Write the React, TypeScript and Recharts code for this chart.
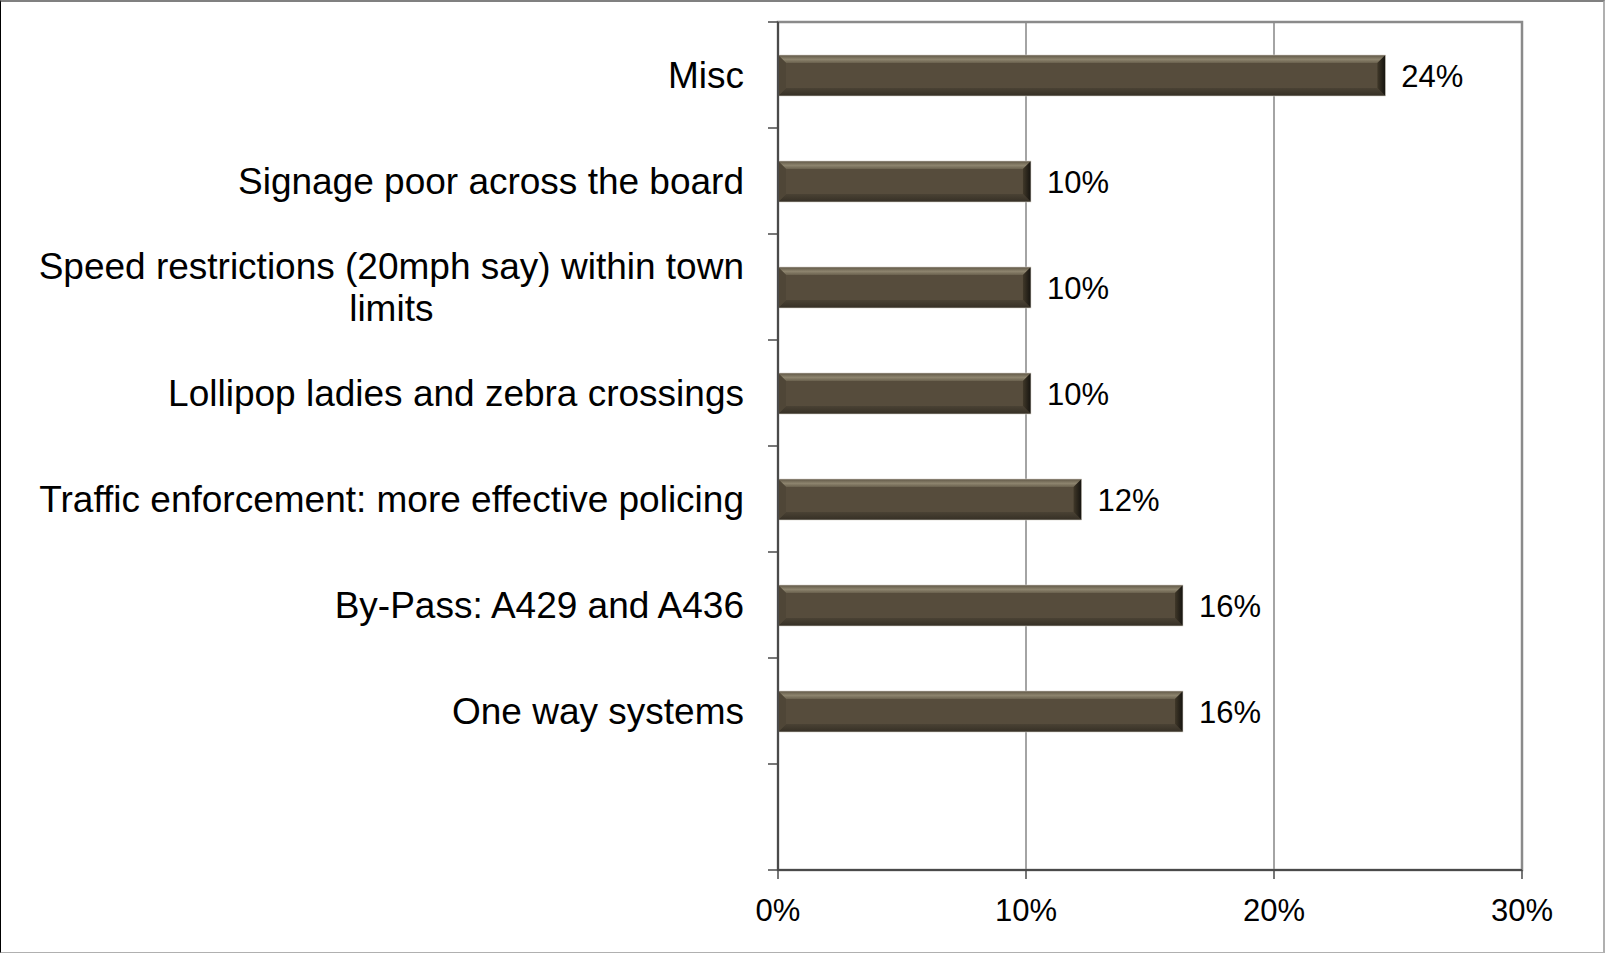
import React from 'react';
import { BarChart, Bar, XAxis, YAxis, CartesianGrid, LabelList, ReferenceArea } from 'recharts';

// chart values (share of responses)
const categories = [
  'Misc',
  'Signage poor across the board',
  'Speed restrictions (20mph say) within town limits',
  'Lollipop ladies and zebra crossings',
  'Traffic enforcement: more effective policing',
  'By-Pass: A429 and A436',
  'One way systems',
  '',
];
const shares = [0.2449, 0.102, 0.102, 0.102, 0.1224, 0.1633, 0.1633, null];
const xTicks = [0, 0.1, 0.2, 0.3];

const data = categories.map((name, i) => ({ name, value: shares[i] }));

const FONT = "'Liberation Sans', Arial, sans-serif";
const CAT_SIZE = 37;
const AXIS_COLOR = '#4a4a4a';
const GRID_COLOR = '#868686';

const pct = (v) => (v == null ? '' : `${Math.round(v * 100)}%`);

let ctx = null;
function measure(text) {
  if (!ctx) {
    ctx = document.createElement('canvas').getContext('2d');
    ctx.font = `${CAT_SIZE}px ${FONT}`;
  }
  return ctx.measureText(text).width;
}

function wrap(text, maxWidth) {
  const words = text.split(' ');
  const lines = [];
  let cur = '';
  words.forEach((w) => {
    const next = cur ? cur + ' ' + w : w;
    if (cur && measure(next) > maxWidth) {
      lines.push(cur);
      cur = w;
    } else {
      cur = next;
    }
  });
  if (cur) lines.push(cur);
  return lines;
}

function CategoryTick(props) {
  const { x, y, payload, index, visibleTicksCount } = props;
  const half = payload.offset || 0;
  const axisX = x + 34;
  const lines = payload.value ? wrap(payload.value, 720) : [];
  const lineH = 42;
  const firstW = lines.length ? measure(lines[0]) : 0;
  const centerX = x - firstW / 2;
  return (
    <g>
      <line x1={axisX - 10} x2={axisX} y1={y - half} y2={y - half} stroke={AXIS_COLOR} strokeWidth={1.5} />
      {index === visibleTicksCount - 1 && (
        <line x1={axisX - 10} x2={axisX} y1={y + half} y2={y + half} stroke={AXIS_COLOR} strokeWidth={1.5} />
      )}
      {lines.map((ln, i) => (
        <text
          key={i}
          x={i === 0 ? x : centerX}
          y={y + (i - (lines.length - 1) / 2) * lineH}
          dy="0.355em"
          textAnchor={i === 0 ? 'end' : 'middle'}
          fontFamily={FONT}
          fontSize={CAT_SIZE}
          fill="#000"
        >
          {ln}
        </text>
      ))}
    </g>
  );
}

function BevelBar(props) {
  const { x, y, width, height } = props;
  if (!width || width <= 0) return null;
  const b = Math.min(8, width / 2);
  const r = x + width;
  const btm = y + height;
  return (
    <g>
      <rect x={x} y={y} width={width} height={height} fill="#564c3c" />
      <polygon points={`${x},${y} ${r},${y} ${r - b},${y + b} ${x + b},${y + b}`} fill="url(#bevelTop)" />
      <polygon points={`${x},${btm} ${r},${btm} ${r - b},${btm - b} ${x + b},${btm - b}`} fill="url(#bevelBottom)" />
      <polygon points={`${x},${y} ${x + b},${y + b} ${x + b},${btm - b} ${x},${btm}`} fill="#4f4637" />
      <polygon points={`${r},${y} ${r - b},${y + b} ${r - b},${btm - b} ${r},${btm}`} fill="url(#bevelRight)" />
      <rect x={x} y={y} width={width} height={height} fill="none" stroke="#d6d2ca" strokeWidth={0.6} />
    </g>
  );
}

export default function App() {
  return (
    <div style={{ position: 'relative', width: 1605, height: 953, background: '#fff' }}>
      <style>{`body{margin:0}`}</style>
      <BarChart
        width={1605}
        height={953}
        data={data}
        layout="vertical"
        margin={{ top: 22, right: 83, bottom: 0, left: 0 }}
        barCategoryGap={0}
      >
        <defs>
          <linearGradient id="bevelTop" x1="0" y1="0" x2="0" y2="1">
            <stop offset="0%" stopColor="#5f5645" />
            <stop offset="55%" stopColor="#8d846e" />
            <stop offset="100%" stopColor="#6a614e" />
          </linearGradient>
          <linearGradient id="bevelBottom" x1="0" y1="0" x2="0" y2="1">
            <stop offset="0%" stopColor="#4a4234" />
            <stop offset="100%" stopColor="#352f25" />
          </linearGradient>
          <linearGradient id="bevelRight" x1="0" y1="0" x2="1" y2="0">
            <stop offset="0%" stopColor="#403829" />
            <stop offset="100%" stopColor="#15130f" />
          </linearGradient>
        </defs>
        <CartesianGrid horizontal={false} stroke={GRID_COLOR} strokeWidth={1.5} />
        <ReferenceArea x1={0} x2={0.3} fill="none" fillOpacity={0} stroke="#8a8a8a" strokeWidth={2.5} />
        <XAxis
          type="number"
          domain={[0, 0.3]}
          ticks={xTicks}
          tickFormatter={pct}
          height={83}
          tickSize={9}
          tickMargin={20}
          axisLine={{ stroke: AXIS_COLOR, strokeWidth: 2 }}
          tickLine={{ stroke: AXIS_COLOR, strokeWidth: 1.5 }}
          tick={{ fontFamily: FONT, fontSize: 31, fill: '#000' }}
          interval={0}
        />
        <YAxis
          type="category"
          dataKey="name"
          width={778}
          tickLine={false}
          tickSize={0}
          axisLine={{ stroke: AXIS_COLOR, strokeWidth: 2 }}
          tick={<CategoryTick />}
          tickMargin={34}
          interval={0}
        />
        <Bar dataKey="value" barSize={41} shape={<BevelBar />} isAnimationActive={false}>
          <LabelList
            dataKey="value"
            position="right"
            offset={16}
            formatter={pct}
            style={{ fontFamily: FONT, fontSize: 31, fill: '#000' }}
          />
        </Bar>
      </BarChart>
      <div
        style={{
          position: 'absolute',
          inset: 0,
          pointerEvents: 'none',
          borderTop: '2px solid #808080',
          borderRight: '2px solid #b0b0b0',
          borderBottom: '1px solid #b0b0b0',
          borderLeft: '1px solid #000',
          boxSizing: 'border-box',
        }}
      />
    </div>
  );
}
